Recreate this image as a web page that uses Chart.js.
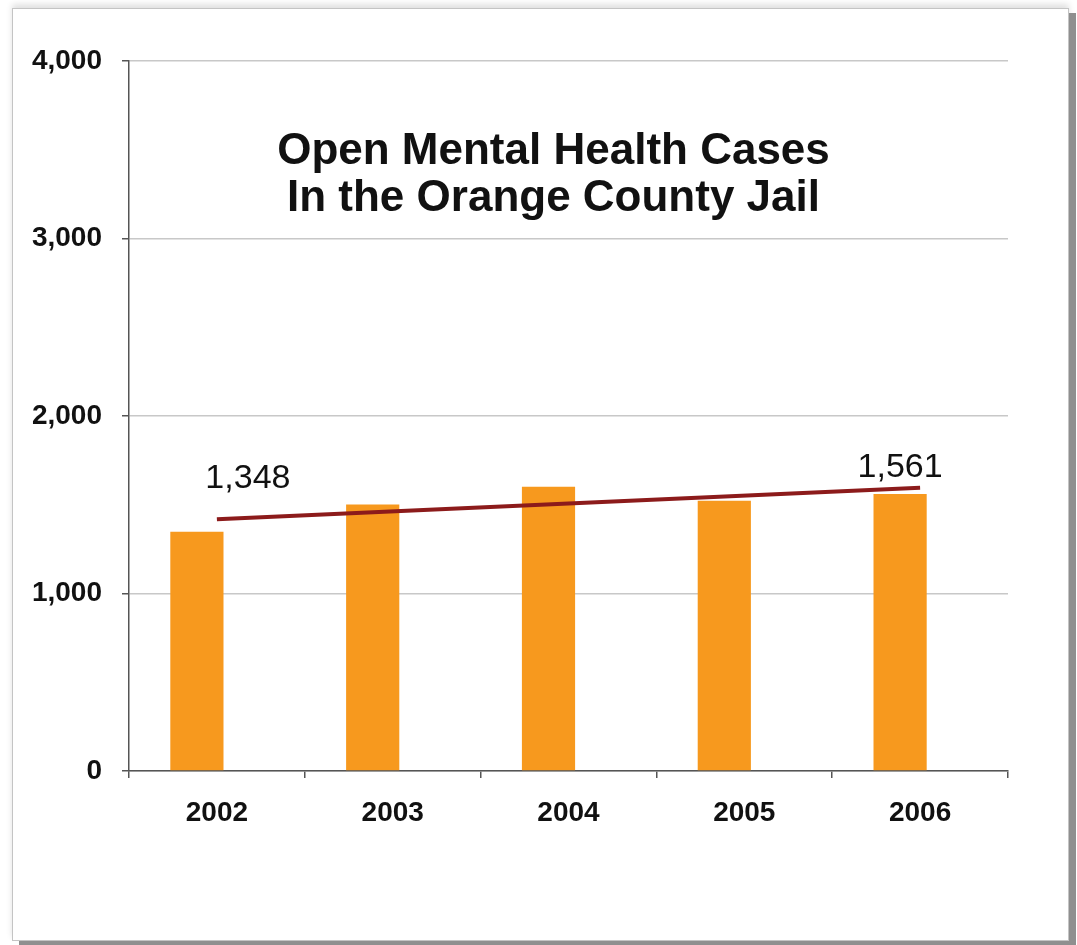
<!DOCTYPE html>
<html>
<head>
<meta charset="utf-8">
<script src="https://cdn.jsdelivr.net/npm/chart.js@4.4.1/dist/chart.umd.min.js"></script>
<style>
  html, body { margin: 0; padding: 0; background: #fff; }
  body { width: 1077px; height: 945px; position: relative; overflow: hidden; }
  #frame {
    position: absolute; left: 12px; top: 8px; width: 1055px; height: 931px;
    border: 1px solid #c4c4c4; background: #fff;
    box-shadow: 7px 5px 0 #8f8f8f, 0 -4px 6px rgba(0,0,0,0.12);
  }
  #jailChart { position: absolute; left: 0; top: 0; }
</style>
</head>
<body>
<div id="frame"></div>
<canvas id="jailChart" width="1077" height="945"></canvas>
<script>
var years = ['2002', '2003', '2004', '2005', '2006'];
var openCases = [1348, 1502, 1602, 1522, 1561];
var trendCases = [1418, null, null, null, 1596];
var yTicks = [0, 1000, 2000, 3000, 4000];
var labelledBars = [0, 4];
var titleLines = ['Open Mental Health Cases', 'In the Orange County Jail'];

var FONT = "Arial, 'Liberation Sans', sans-serif";
var AXIS = '#555555';

// title sits inside the plot, value labels over first/last bar
var overlayText = {
    id: 'overlayText',
    afterDatasetsDraw: function (chart) {
        var ctx = chart.ctx;
        var area = chart.chartArea;
        ctx.save();
        ctx.fillStyle = '#111';
        ctx.textAlign = 'center';
        ctx.textBaseline = 'alphabetic';
        ctx.font = 'bold 44px ' + FONT;
        var cx = (area.left + area.right) / 2 - 15;
        ctx.fillText(titleLines[0], cx, area.top + 103);
        ctx.fillText(titleLines[1], cx, area.top + 150);

        var bars = chart.getDatasetMeta(0).data;
        var offsets = [[51, -44], [0, -17]];
        ctx.font = '34px ' + FONT;
        labelledBars.forEach(function (i, k) {
            var b = bars[i];
            ctx.fillText(openCases[i].toLocaleString('en-US'), b.x + offsets[k][0], b.y + offsets[k][1]);
        });
        ctx.restore();
    }
};

new Chart(document.getElementById('jailChart'), {
    type: 'bar',
    data: {
        labels: years,
        datasets: [{
            label: 'Open cases',
            data: openCases,
            backgroundColor: '#F7991E',
            categoryPercentage: 0.455,
            barPercentage: 1.33,
            order: 2
        }, {
            // empty slot so the bars sit left of the category centre
            label: 'spacer',
            data: years.map(function () { return null; }),
            backgroundColor: 'rgba(0,0,0,0)',
            categoryPercentage: 0.455,
            barPercentage: 1.33,
            order: 3
        }, {
            type: 'line',
            label: 'Trend',
            data: trendCases,
            spanGaps: true,
            borderColor: '#8C1B1B',
            borderWidth: 4,
            pointRadius: 0,
            fill: false,
            order: 1
        }]
    },
    options: {
        responsive: false,
        animation: false,
        layout: { padding: { top: 61, right: 69, bottom: 74, left: 0 } },
        plugins: {
            legend: { display: false },
            tooltip: { enabled: false }
        },
        scales: {
            x: {
                offset: true,
                grid: { drawOnChartArea: false, drawTicks: true, tickLength: 7, tickColor: AXIS, lineWidth: 1.5 },
                border: { color: AXIS, width: 1.5 },
                ticks: { color: '#111', padding: 18, font: { family: FONT, size: 28, weight: 'bold' } },
                afterFit: function (s) { s.height = 100; }
            },
            y: {
                min: yTicks[0],
                max: yTicks[yTicks.length - 1],
                afterBuildTicks: function (s) { s.ticks = yTicks.map(function (v) { return { value: v }; }); },
                grid: { color: '#c8c8c8', lineWidth: 1.5, tickLength: 7, tickColor: AXIS },
                border: { color: AXIS, width: 1.5 },
                ticks: {
                    color: '#111', padding: 20,
                    font: { family: FONT, size: 28, weight: 'bold' },
                    callback: function (v) { return Number(v).toLocaleString('en-US'); }
                },
                afterFit: function (s) { s.width = 129; }
            }
        }
    },
    plugins: [overlayText]
});
</script>
</body>
</html>
